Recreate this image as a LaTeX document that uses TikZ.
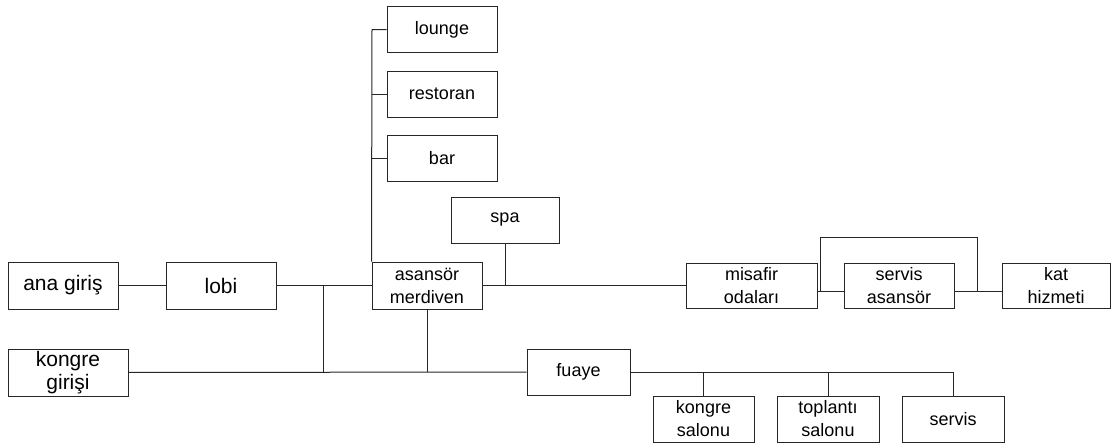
\documentclass[tikz,border=0pt]{standalone}
\usepackage{fontspec}
\setmainfont{Liberation Sans}
\begin{document}
\begin{tikzpicture}[x=1pt,y=-1pt,
  box/.style={draw=black!85, line width=1pt, fill=white, inner sep=0pt, align=center,
    minimum width=110pt, minimum height=46pt, font=\fontsize{18}{23}\selectfont},
  bigbox/.style={box, font=\fontsize{21}{23}\selectfont},
  ln/.style={draw=black!85, line width=1pt}]
\useasboundingbox (0,0) rectangle (1112,445);
% nodes
\node[bigbox, minimum width=110pt, minimum height=47pt] (anagiris) at (63,285.5) {ana giriş};
\node[bigbox, minimum width=110pt, minimum height=47pt] (lobi) at (221,285.5) {lobi};
\node[bigbox, minimum width=120pt, minimum height=47pt] (kongregirisi) at (68,372.5) {kongre\\girişi};
\node[box] (lounge) at (442,29.5) {lounge};
\node[box] (restoran) at (442,94) {restoran};
\node[box] (bar) at (442,158) {bar};
\node[box, minimum width=108pt] (spa) at (505,220) {spa};
\node[box, minimum height=47pt] (asansor) at (427,285.5) {asansör\\merdiven};
\node[box, minimum width=131pt, minimum height=45pt] (misafir) at (751.5,285.5) {misafir\\odaları};
\node[box, minimum height=45pt] (servisasansor) at (899,285.5) {servis\\asansör};
\node[box, minimum width=108pt, minimum height=45pt] (kat) at (1056,285.5) {kat\\hizmeti};
\node[box, minimum width=103pt] (fuaye) at (578.5,372) {fuaye};
\node[box, minimum width=101pt] (kongresalonu) at (703.5,419) {kongre\\salonu};
\node[box, minimum width=102pt] (toplanti) at (828,419) {toplantı\\salonu};
\node[box, minimum width=102pt] (servis) at (953,419) {servis};
% junction coordinates
\coordinate (j1) at (323,285.5);
\coordinate (j2) at (323,372);
\coordinate (j3) at (427,372);
\coordinate (jspa) at (505,285.5);
\coordinate (vl) at (372,29.5);
\coordinate (vr) at (372,94);
\coordinate (vb) at (372,158);
\coordinate (la) at (820,291);
\coordinate (lb) at (820,237);
\coordinate (lc) at (977,237);
\coordinate (ld) at (977,291);
\coordinate (f1) at (703.5,372);
\coordinate (f2) at (828,372);
\coordinate (f3) at (953,372);
% connectors
\draw[ln] (anagiris) -- (lobi);
\draw[ln] (lobi) -- (asansor);
\draw[ln] (j1) -- (j2);
\draw[ln] (kongregirisi) -- (fuaye);
\draw[ln] (asansor.south) -- (j3);
\draw[ln] (asansor.north west) -- (vl) -- (lounge.west);
\draw[ln] (vr) -- (restoran.west);
\draw[ln] (vb) -- (bar.west);
\draw[ln] (asansor) -- (misafir);
\draw[ln] (spa.south) -- (jspa);
\draw[ln] ([yshift=-5.5pt]misafir.east) -- ([yshift=-5.5pt]servisasansor.west);
\draw[ln] ([yshift=-5.5pt]servisasansor.east) -- ([yshift=-5.5pt]kat.west);
\draw[ln] (la) -- (lb) -- (lc) -- (ld);
\draw[ln] (fuaye.east) -- (f3);
\draw[ln] (f1) -- (kongresalonu.north);
\draw[ln] (f2) -- (toplanti.north);
\draw[ln] (f3) -- (servis.north);
\end{tikzpicture}
\end{document}
